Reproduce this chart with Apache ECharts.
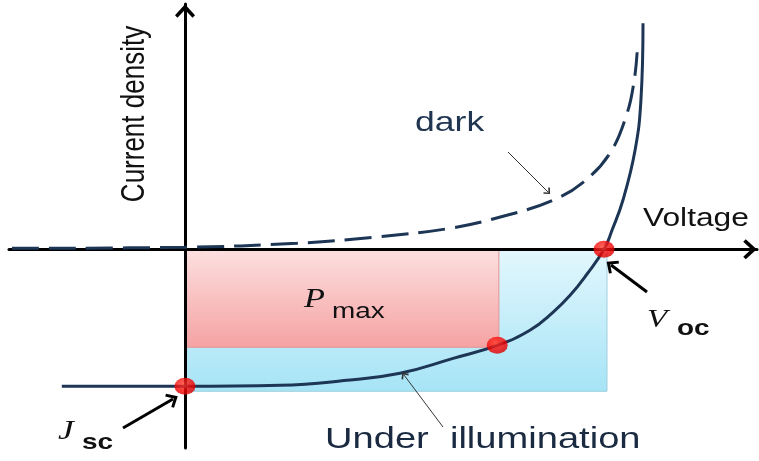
<!DOCTYPE html>
<html>
<head>
<meta charset="utf-8">
<script src="https://cdn.jsdelivr.net/npm/echarts@6/dist/echarts.min.js"></script>
<style>
html, body { margin: 0; padding: 0; background: #fff; }
#ivChart { width: 759px; height: 461px; }
</style>
</head>
<body>
<div id="ivChart"></div>
<script>
/*************************** 数据 ***************************/
// light curve (under illumination), V normalised to Voc, J normalised to Jsc
var lightV = [-0.294, 0, 0.227, 0.387, 0.513, 0.640, 0.745, 0.823, 0.878, 0.919, 0.959, 1.0, 1.019, 1.045, 1.074, 1.088, 1.093];
var lightJ = [-1.0, -1.0, -0.993, -0.956, -0.905, -0.796, -0.701, -0.591, -0.460, -0.336, -0.182, 0, 0.139, 0.358, 0.723, 1.088, 1.650];
// dark curve
var darkV = [-0.413, 0, 0.267, 0.449, 0.632, 0.768, 0.878, 0.950, 1.014, 1.055, 1.072, 1.079];
var darkJ = [0.007, 0.015, 0.044, 0.088, 0.153, 0.248, 0.358, 0.489, 0.701, 0.993, 1.234, 1.438];
// Jsc, Pmax, Voc points
var keyV = [0, 0.745, 1.0];
var keyJ = [-1.0, -0.701, 0];
// rectangles: [V, J] far corner, other corner at origin
var pmaxBox = [0.749, -0.715];
var fullBox = [1.007, -1.036];

function zipXY(xs, ys) {
    return xs.map(function (x, i) { return [x, ys[i]]; });
}

var chevron = 'path://M10,0L20,11L17.5,13.5L10,5.5L2.5,13.5L0,11Z';
var navy = '#1d3656';
var sans = '"Liberation Sans", Arial, sans-serif';
var serif = '"Liberation Serif", "Times New Roman", serif';
var stretch = 1.27; // the picture is stretched sideways

// text helper for the graphic labels
function label(text, x, y, size, family, opts) {
    opts = opts || {};
    return {
        type: 'text', x: x, y: y, z: 20,
        rotation: opts.rotation || 0,
        scaleX: opts.rotation ? 1 : stretch,
        scaleY: opts.rotation ? stretch : 1,
        silent: true,
        style: {
            text: text,
            fontSize: size,
            fontFamily: family,
            fontStyle: opts.italic ? 'italic' : 'normal',
            fontWeight: opts.bold ? 'bold' : 'normal',
            fill: opts.color || '#111',
            align: opts.align || 'left',
            verticalAlign: 'middle'
        }
    };
}

var ivChart = echarts.init(document.getElementById('ivChart'));
ivChartOption = {
    animation: false,
    grid: { left: 9, right: 2, top: 4, bottom: 13 },
    xAxis: {
        type: 'value',
        min: -0.42,
        max: 1.365,
        z: 3,
        axisLine: {
            onZero: true,
            symbol: ['none', chevron],
            symbolSize: [20, 14],
            symbolOffset: [0, -7],
            lineStyle: { color: '#000', width: 3 }
        },
        axisTick: { show: false },
        axisLabel: { show: false },
        splitLine: { show: false }
    },
    yAxis: {
        type: 'value',
        min: -1.45,
        max: 1.79,
        z: 3,
        axisLine: {
            onZero: true,
            symbol: ['none', chevron],
            symbolSize: [20, 14],
            symbolOffset: [0, -7],
            lineStyle: { color: '#000', width: 3 }
        },
        axisTick: { show: false },
        axisLabel: { show: false },
        splitLine: { show: false }
    },
    series: [{
        name: 'boxes',
        type: 'line',
        data: [],
        silent: true,
        markArea: {
            silent: true,
            data: [
                [{
                    coord: [0, 0],
                    itemStyle: {
                        color: new echarts.graphic.LinearGradient(0, 0, 0, 1, [
                            { offset: 0, color: '#e3f7fd' },
                            { offset: 1, color: '#a6e4f6' }
                        ]),
                        borderColor: '#9fcfdf',
                        borderWidth: 1
                    }
                }, { coord: fullBox }],
                [{
                    coord: [0, 0],
                    itemStyle: {
                        color: new echarts.graphic.LinearGradient(0, 0, 0, 1, [
                            { offset: 0, color: '#fde0e0' },
                            { offset: 1, color: '#f5a2a2' }
                        ]),
                        borderColor: '#e39393',
                        borderWidth: 1
                    }
                }, { coord: pmaxBox }]
            ]
        }
    }, {
        name: 'dark',
        type: 'line',
        z: 4,
        smooth: 0.4,
        showSymbol: false,
        silent: true,
        lineStyle: { color: navy, width: 3, type: [27, 10] },
        data: zipXY(darkV, darkJ)
    }, {
        name: 'light',
        type: 'line',
        z: 4,
        smooth: 0.45,
        showSymbol: false,
        silent: true,
        lineStyle: { color: navy, width: 3 },
        data: zipXY(lightV, lightJ)
    }, {
        name: 'points',
        type: 'scatter',
        z: 5,
        silent: true,
        symbol: 'circle',
        symbolSize: [21, 17],
        itemStyle: {
            color: new echarts.graphic.RadialGradient(0.4, 0.35, 0.7, [
                { offset: 0, color: '#ff3b2e' },
                { offset: 0.65, color: '#f20000' },
                { offset: 1, color: '#d00000' }
            ])
        },
        data: zipXY(keyV, keyJ),
        markLine: {
            silent: true,
            animation: false,
            label: { show: false },
            symbol: ['none', chevron],
            data: [
                [{ x: 508, y: 152, lineStyle: { color: '#333', width: 1, type: 'solid' }, symbolSize: 0 },
                 { x: 548, y: 192, symbolSize: [9, 6] }],
                [{ x: 443, y: 427, lineStyle: { color: '#333', width: 1, type: 'solid' }, symbolSize: 0 },
                 { x: 404, y: 375, symbolSize: [9, 6] }],
                [{ x: 123, y: 428, lineStyle: { color: '#000', width: 3, type: 'solid' }, symbolSize: 0 },
                 { x: 173, y: 399, symbolSize: [16, 11] }],
                [{ x: 647, y: 292, lineStyle: { color: '#000', width: 3, type: 'solid' }, symbolSize: 0 },
                 { x: 611, y: 265, symbolSize: [16, 11] }]
            ]
        }
    }],
    graphic: [
        label('Current density', 135, 114, 26, sans, { rotation: Math.PI / 2, align: 'center' }),
        label('dark', 415, 123, 28, sans, { color: '#1f3550' }),
        label('Voltage', 643, 219, 25, sans),
        label('Under  illumination', 325, 440, 30, sans, { color: '#1a2a40' }),
        label('P', 304, 300, 27, serif, { italic: true }),
        label('max', 332, 312, 22, sans),
        label('V', 647, 320, 26, serif, { italic: true }),
        label('oc', 677, 329, 22, sans, { bold: true }),
        label('J', 58, 432, 28, serif, { italic: true }),
        label('sc', 82, 443, 22, sans, { bold: true })
    ]
};
ivChart.setOption(ivChartOption);
</script>
</body>
</html>
